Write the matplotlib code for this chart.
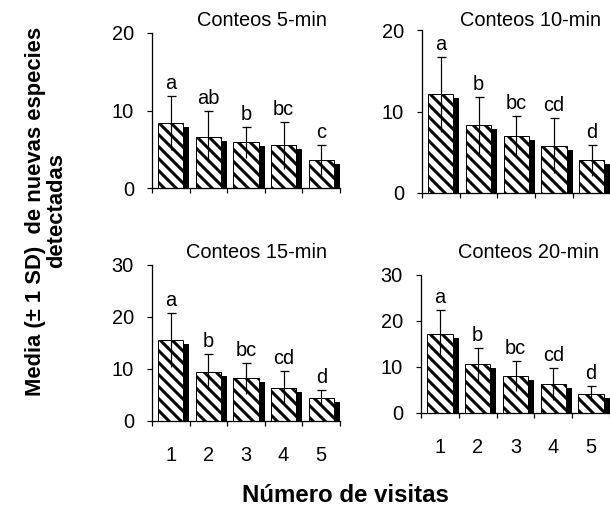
import matplotlib
matplotlib.use('Agg')
import matplotlib.pyplot as plt
import matplotlib.transforms as mtransforms
import numpy as np

plt.rcParams['font.family'] = ['Liberation Sans', 'DejaVu Sans']
plt.rcParams['hatch.linewidth'] = 3.0

# Nuevas especies detectadas por visita (media y SD)
visitas = [1, 2, 3, 4, 5]

media_5 = [8.4, 6.6, 5.9, 5.5, 3.6]
sd_5 = [3.5, 3.3, 2.0, 3.0, 1.9]
letras_5 = ['a', 'ab', 'b', 'bc', 'c']

media_10 = [12.1, 8.3, 7.0, 5.8, 4.0]
sd_10 = [4.6, 3.5, 2.4, 3.4, 1.9]
letras_10 = ['a', 'b', 'bc', 'cd', 'd']

media_15 = [15.5, 9.4, 8.2, 6.3, 4.5]
sd_15 = [5.2, 3.4, 3.0, 3.3, 1.4]
letras_15 = ['a', 'b', 'bc', 'cd', 'd']

media_20 = [17.2, 10.6, 8.1, 6.3, 4.2]
sd_20 = [5.1, 3.6, 3.3, 3.4, 1.6]
letras_20 = ['a', 'b', 'bc', 'cd', 'd']

W, H = 610, 520
fig = plt.figure(figsize=(W / 72, H / 72), dpi=72)


def px_axes(left, bottom, right, top):
    return fig.add_axes([left / W, 1 - bottom / H, (right - left) / W, (bottom - top) / H])


def panel(ax, media, sd, letras, ymax, yticks, titulo, tx, ty, etiquetas):
    x = np.array(visitas, dtype=float)
    # sombra negra desplazada (efecto 3D)
    shadow = ax.transData + mtransforms.ScaledTranslation(5 / 72, -4 / 72, fig.dpi_scale_trans)
    ax.bar(x, media, width=0.67, color='black', edgecolor='black', transform=shadow, zorder=1)
    ax.bar(x, media, width=0.67, color='white', edgecolor='black', linewidth=1.0,
           hatch='\\\\', zorder=2)
    ax.errorbar(x, media, yerr=sd, fmt='none', ecolor='black', elinewidth=1.2,
                capsize=0, zorder=3)
    top = np.array(media) + np.array(sd)
    ax.plot(x, top, ls='none', marker='_', ms=9, mew=1.3, color='black', zorder=3)
    for xi, yi, t in zip(x, top, letras):
        ax.annotate(t, (xi, yi), xytext=(0, 3), textcoords='offset points',
                    ha='center', va='bottom', fontsize=20)

    ax.set_xlim(0.5, 5.5)
    ax.set_ylim(0, ymax)
    ax.set_yticks(yticks)
    ax.tick_params(axis='y', direction='out', length=5, width=1.2, pad=13, labelsize=20)
    ax.set_xticks(np.arange(0.5, 6.0, 1.0))
    ax.set_xticklabels([])
    ax.tick_params(axis='x', which='major', direction='out', length=5, width=1.2)
    if etiquetas:
        ax.set_xticks(x, minor=True)
        ax.set_xticklabels([str(v) for v in visitas], minor=True)
        ax.tick_params(axis='x', which='minor', length=0, pad=25, labelsize=20)
    for s in ['top', 'right']:
        ax.spines[s].set_visible(False)
    for s in ['left', 'bottom']:
        ax.spines[s].set_linewidth(1.3)
    fig.text(tx / W, 1 - ty / H, titulo, ha='center', va='center', fontsize=20)


ax1 = px_axes(152, 188, 340, 33)
panel(ax1, media_5, sd_5, letras_5, 20, [0, 10, 20], 'Conteos 5-min', 262, 21, False)

ax2 = px_axes(422, 193, 610.5, 30)
panel(ax2, media_10, sd_10, letras_10, 20, [0, 10, 20], 'Conteos 10-min', 530, 21, False)

ax3 = px_axes(152, 421, 340, 265)
panel(ax3, media_15, sd_15, letras_15, 30, [0, 10, 20, 30], 'Conteos 15-min', 256, 252, True)

ax4 = px_axes(421, 413, 610, 275)
panel(ax4, media_20, sd_20, letras_20, 30, [0, 10, 20, 30], 'Conteos 20-min', 528, 253, True)

fig.text(46 / W, 1 - 211 / H, 'Media (± 1 SD)  de nuevas especies\ndetectadas',
         rotation=90, ha='center', va='center', multialignment='center',
         fontsize=22, fontweight='bold', linespacing=1.0)
fig.text(345 / W, 1 - 495 / H, 'Número de visitas', ha='center', va='center',
         fontsize=24, fontweight='bold')

fig.savefig('out.png', dpi=72)
